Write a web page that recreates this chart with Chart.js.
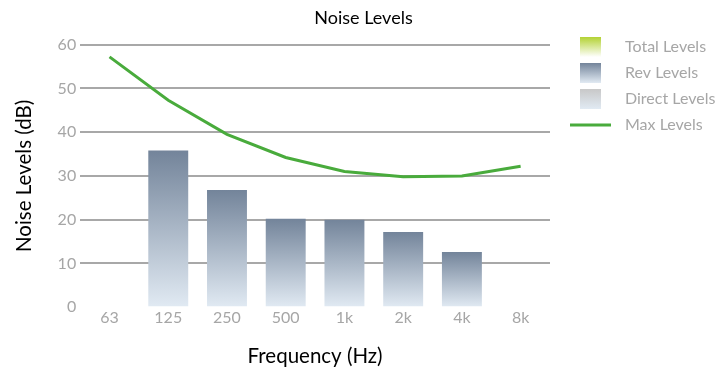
<!DOCTYPE html>
<html>
  <head>
    <meta charset="utf-8" />
    <title>Noise Levels</title>
    <script src="https://cdn.jsdelivr.net/npm/chart.js"></script>
    <style>
      body { margin: 0; background: #fff; }
      #wrap { width: 719px; height: 373px; }
    </style>
  </head>
  <body>
    <div id="wrap"><canvas id="myChart"></canvas></div>
    <script>
      const labels = ['63', '125', '250', '500', '1k', '2k', '4k', '8k'];
      const totalLevels = [null, null, null, null, null, null, null, null];
      const revLevels = [null, 35.8, 26.8, 20.2, 20.0, 17.2, 12.6, null];
      const directLevels = [null, null, null, null, null, null, null, null];
      const maxLevels = [57.2, 47.3, 39.5, 34.2, 31.0, 29.8, 30.0, 32.2];
      const yTicks = [0, 10, 20, 30, 40, 50, 60];

      const FONT = 'Lato, "Open Sans", sans-serif';

      // gradient for each bar, from its top to the baseline
      function barFill(top, bottom) {
        return function (ctx) {
          const chart = ctx.chart;
          if (!chart.chartArea || ctx.type !== 'data') return top;
          const y = chart.scales.y;
          const v = ctx.raw;
          if (v == null) return top;
          const g = chart.ctx.createLinearGradient(0, y.getPixelForValue(v), 0, y.getPixelForValue(0));
          g.addColorStop(0, top);
          g.addColorStop(1, bottom);
          return g;
        };
      }

      const legendItems = [
        { text: 'Total Levels', type: 'box', top: '#b3d234', bottom: '#ffffff' },
        { text: 'Rev Levels', type: 'box', top: '#73849a', bottom: '#e1eaf3' },
        { text: 'Direct Levels', type: 'box', top: '#c8c8c8', bottom: '#e1eaf3' },
        { text: 'Max Levels', type: 'line', color: '#49ab3c' }
      ];

      const sideLegend = {
        id: 'sideLegend',
        afterDraw(chart) {
          const c = chart.ctx;
          c.save();
          c.font = '16px ' + FONT;
          c.textBaseline = 'middle';
          legendItems.forEach((it, i) => {
            const cy = 47 + i * 26;
            if (it.type === 'box') {
              const g = c.createLinearGradient(0, cy - 10, 0, cy + 10);
              g.addColorStop(0, it.top);
              g.addColorStop(1, it.bottom);
              c.fillStyle = g;
              c.fillRect(580, cy - 10, 21, 20);
            } else {
              c.strokeStyle = it.color;
              c.lineWidth = 3;
              c.beginPath();
              c.moveTo(570, cy);
              c.lineTo(611, cy);
              c.stroke();
            }
            c.fillStyle = '#a6a6a6';
            c.fillText(it.text, 625, cy);
          });
          c.restore();
        }
      };

      new Chart(document.getElementById('myChart'), {
        type: 'bar',
        data: {
          labels: labels,
          datasets: [
            { label: 'Total Levels', data: totalLevels, grouped: false, barPercentage: 0.68, categoryPercentage: 1,
              backgroundColor: barFill('#b3d234', '#ffffff'), order: 2 },
            { label: 'Rev Levels', data: revLevels, grouped: false, barPercentage: 0.68, categoryPercentage: 1,
              backgroundColor: barFill('#73849a', '#e1eaf3'), order: 2 },
            { label: 'Direct Levels', data: directLevels, grouped: false, barPercentage: 0.68, categoryPercentage: 1,
              backgroundColor: barFill('#c8c8c8', '#e1eaf3'), order: 2 },
            { type: 'line', label: 'Max Levels', data: maxLevels, borderColor: '#49ab3c', borderWidth: 3,
              pointRadius: 0, tension: 0, fill: false, order: 1 }
          ]
        },
        options: {
          responsive: true,
          maintainAspectRatio: false,
          animation: false,
          layout: { padding: { left: 8, right: 0, top: 5, bottom: 0 } },
          plugins: {
            legend: { display: false },
            tooltip: { enabled: false },
            title: {
              display: true,
              text: 'Noise Levels',
              color: '#000',
              font: { family: FONT, size: 18, weight: 'normal' },
              padding: { top: 2, bottom: 16 }
            }
          },
          scales: {
            x: {
              grid: { display: false, drawTicks: false },
              border: { display: false },
              ticks: { color: '#a6a6a6', font: { family: FONT, size: 16 }, padding: 1 },
              title: { display: true, text: 'Frequency (Hz)', color: '#000',
                font: { family: FONT, size: 20.5 }, padding: { top: 16 } }
            },
            y: {
              min: 0,
              max: 60,
              afterBuildTicks(axis) { axis.ticks = yTicks.map(v => ({ value: v })); },
              grid: {
                color: (ctx) => (ctx.tick && ctx.tick.value === 0 ? 'rgba(0,0,0,0)' : '#a8a8a8'),
                lineWidth: 2,
                drawTicks: false
              },
              border: { display: false },
              ticks: { color: '#a6a6a6', font: { family: FONT, size: 16 }, padding: 4 },
              title: { display: true, text: 'Noise Levels (dB)', color: '#000',
                font: { family: FONT, size: 20.5 }, padding: { bottom: 17 } }
            },
            // empty axis that keeps room for the legend on the right
            side: {
              position: 'right',
              grid: { display: false },
              border: { display: false },
              ticks: { display: false },
              afterFit(axis) { axis.width = 169; }
            }
          }
        },
        plugins: [sideLegend]
      });
    </script>
  </body>
</html>
